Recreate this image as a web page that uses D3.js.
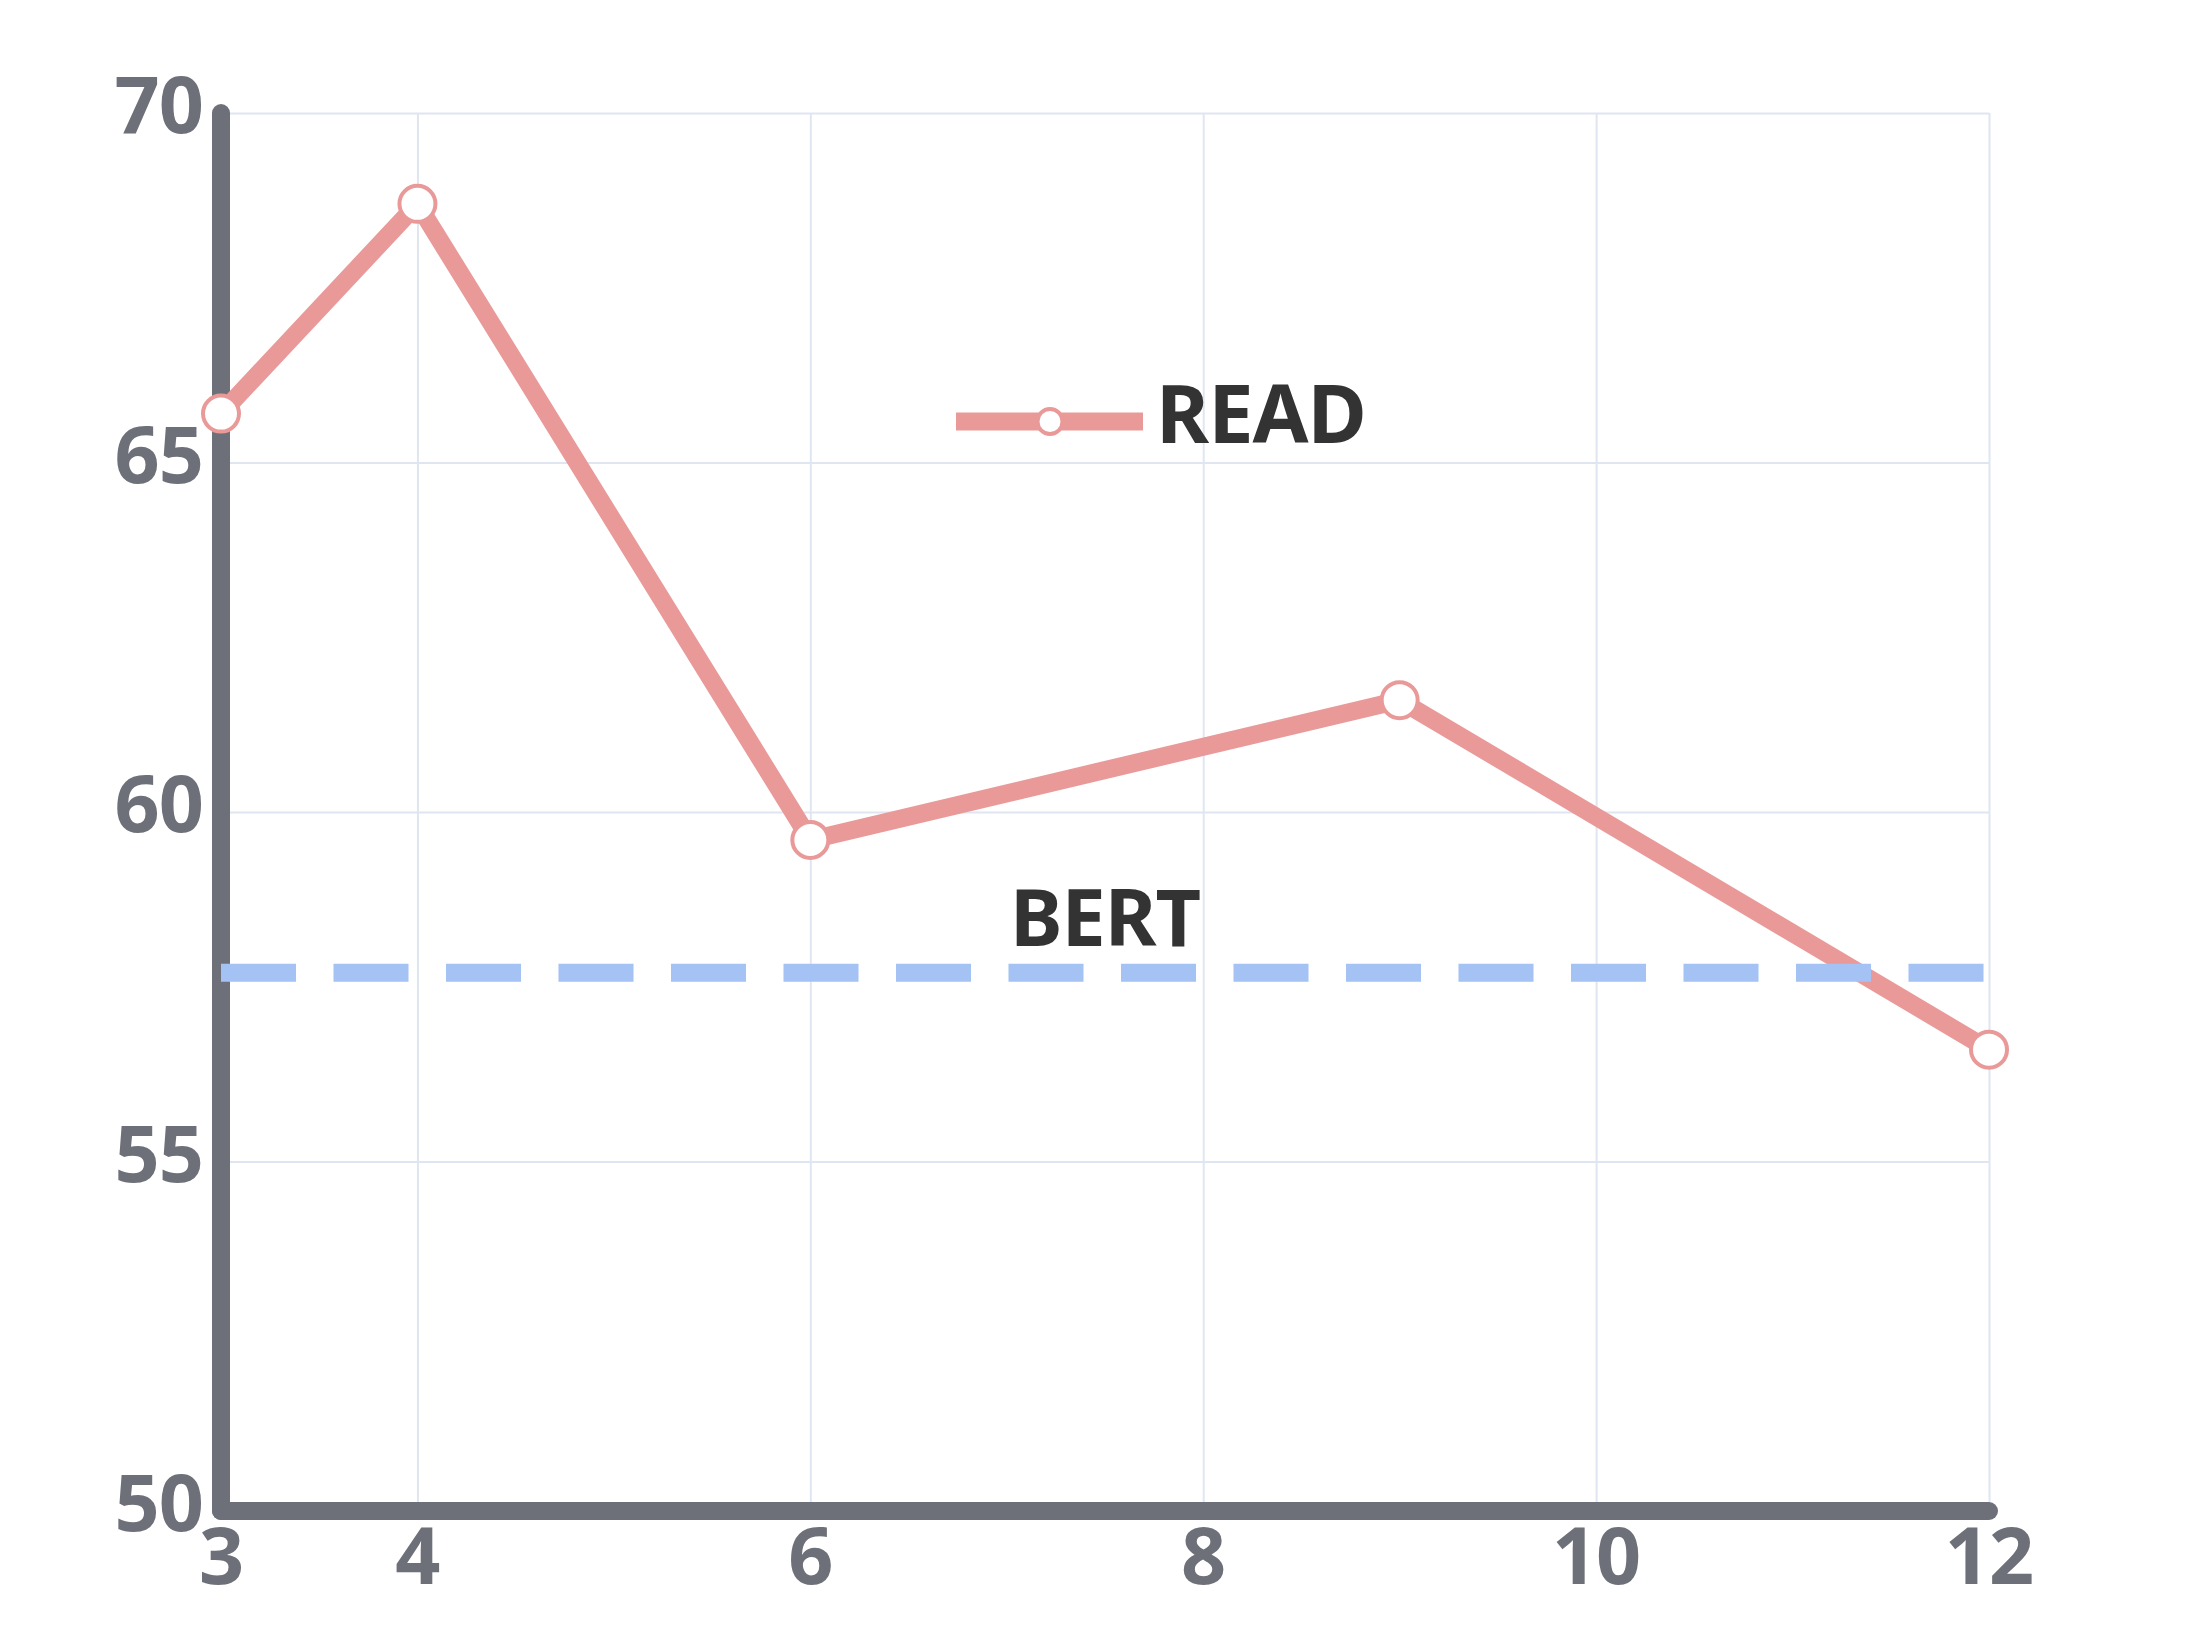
<!DOCTYPE html>
<html>
<head>
<meta charset="utf-8">
<script src="https://cdn.jsdelivr.net/npm/d3@7"></script>
<style>
  html, body { margin: 0; padding: 0; background: #ffffff; }
  svg { display: block; }
  text { font-family: "Noto Sans", "Open Sans", sans-serif; font-weight: 700; }
</style>
</head>
<body>
<svg id="chart" width="2210" height="1642"></svg>
<script>
// ---- data ----
const layers = [3, 4, 6, 9, 12];
const readValues = [65.7, 68.7, 59.6, 61.6, 56.6];
const bertValue = 57.7;
const xTicks = [3, 4, 6, 8, 10, 12];
const yTicks = [50, 55, 60, 65, 70];
const readLabel = "READ";
const bertLabel = "BERT";

// ---- layout ----
const mLeft = 221, mRight = 1989, mTop = 113, mBottom = 1511;
const svg = d3.select("#chart");

const x = d3.scaleLinear().domain([3, 12]).range([mLeft, mRight]);
const y = d3.scaleLinear().domain([50, 70]).range([mBottom, mTop]);

const axisColor = "#6E7079";
const gridColor = "#E0E6F1";
const readColor = "#EA9999";
const bertColor = "#A4C2F4";

// grid
const gx = svg.append("g")
  .attr("transform", `translate(0,${mBottom})`)
  .call(d3.axisBottom(x).tickValues(xTicks).tickSize(-(mBottom - mTop)).tickFormat(""));
gx.select(".domain").remove();
gx.selectAll(".tick line").attr("stroke", gridColor).attr("stroke-width", 2);

const gy = svg.append("g")
  .attr("transform", `translate(${mLeft},0)`)
  .call(d3.axisLeft(y).tickValues(yTicks).tickSize(-(mRight - mLeft)).tickFormat(""));
gy.select(".domain").remove();
gy.selectAll(".tick line").attr("stroke", gridColor).attr("stroke-width", 2);

// axis lines
svg.append("line")
  .attr("x1", x(3)).attr("x2", x(3)).attr("y1", y(70)).attr("y2", y(50))
  .attr("stroke", axisColor).attr("stroke-width", 18).attr("stroke-linecap", "round");
svg.append("line")
  .attr("x1", x(3)).attr("x2", x(12)).attr("y1", y(50)).attr("y2", y(50))
  .attr("stroke", axisColor).attr("stroke-width", 18).attr("stroke-linecap", "round");

// tick labels
svg.append("g").selectAll("text").data(yTicks).join("text")
  .attr("x", mLeft - 18)
  .attr("y", d => y(d) + 20)
  .attr("text-anchor", "end")
  .attr("font-size", 79)
  .attr("letter-spacing", -1)
  .attr("fill", axisColor)
  .text(d => d);

svg.append("g").selectAll("text").data(xTicks).join("text")
  .attr("x", d => x(d))
  .attr("y", mBottom + 73)
  .attr("text-anchor", "middle")
  .attr("font-size", 79)
  .attr("letter-spacing", -1)
  .attr("fill", axisColor)
  .text(d => d);

// READ line
const pts = layers.map((l, i) => [l, readValues[i]]);
svg.append("path")
  .datum(pts)
  .attr("fill", "none")
  .attr("stroke", readColor)
  .attr("stroke-width", 18)
  .attr("stroke-linejoin", "bevel")
  .attr("d", d3.line().x(d => x(d[0])).y(d => y(d[1])));

// BERT dashed line
svg.append("line")
  .attr("x1", x(3)).attr("x2", x(12))
  .attr("y1", y(bertValue)).attr("y2", y(bertValue))
  .attr("stroke", bertColor).attr("stroke-width", 18)
  .attr("stroke-dasharray", "75,37.5");

// markers
svg.append("g").selectAll("circle").data(pts).join("circle")
  .attr("cx", d => x(d[0])).attr("cy", d => y(d[1]))
  .attr("r", 18)
  .attr("fill", "#ffffff")
  .attr("stroke", readColor).attr("stroke-width", 4);

// BERT label
svg.append("text")
  .attr("x", (mLeft + mRight) / 2)
  .attr("y", 946)
  .attr("text-anchor", "middle")
  .attr("font-size", 79)
  .attr("letter-spacing", -1)
  .attr("fill", "#333333")
  .text(bertLabel);

// legend
const lg = svg.append("g");
lg.append("line")
  .attr("x1", 956).attr("x2", 1143).attr("y1", 421.5).attr("y2", 421.5)
  .attr("stroke", readColor).attr("stroke-width", 18);
lg.append("circle")
  .attr("cx", 1050).attr("cy", 421.5).attr("r", 12.5)
  .attr("fill", "#ffffff").attr("stroke", readColor).attr("stroke-width", 4);
lg.append("text")
  .attr("x", 1156).attr("y", 443)
  .attr("font-size", 81)
  .attr("letter-spacing", -1)
  .attr("fill", "#333333")
  .text(readLabel);
</script>
</body>
</html>
